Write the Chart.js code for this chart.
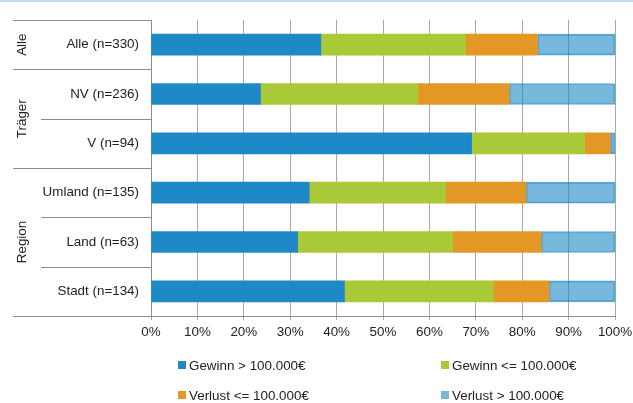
<!DOCTYPE html>
<html>
<head>
<meta charset="utf-8">
<script src="https://cdn.jsdelivr.net/npm/chart.js@4"></script>
<style>
  html, body { margin: 0; padding: 0; background: #fff; }
  #wrap { width: 633px; height: 403px; position: relative; }
</style>
</head>
<body>
<div id="wrap"><canvas id="myChart" width="633" height="403"></canvas></div>
<script>
"use strict";

const categories = ["Alle (n=330)", "NV (n=236)", "V (n=94)", "Umland (n=135)", "Land (n=63)", "Stadt (n=134)"];
const gewinnGross = [36.6, 23.6, 69.1, 34.1, 31.6, 41.7];
const gewinnKlein = [31.2, 33.9, 24.4, 29.4, 33.4, 32.1];
const verlustKlein = [15.5, 19.7, 5.5, 17.3, 19.1, 12.0];
const verlustGross = [16.7, 22.8, 1.0, 19.2, 15.9, 14.2];
const seriesLabels = ["Gewinn > 100.000€", "Gewinn <= 100.000€", "Verlust <= 100.000€", "Verlust > 100.000€"];
const groups = [
    { name: "Alle", from: 0, to: 0 },
    { name: "Träger", from: 1, to: 2 },
    { name: "Region", from: 3, to: 5 }
];

const font = "Liberation Sans, Arial, sans-serif";
const fontSize = 13.4;
const ctx = document.getElementById("myChart");

// group labels, separator lines, legend
const extras = {
    id: "extras",
    afterDraw(chart) {
        const c = chart.ctx;
        const y = chart.scales.y;
        const half = (y.getPixelForValue(1) - y.getPixelForValue(0)) / 2;
        const axisX = chart.chartArea.left;

        c.save();
        c.fillStyle = "#bcdcf0";
        c.fillRect(0, 0, chart.width, 2);

        c.strokeStyle = "#8c8c8c";
        c.lineWidth = 1;
        for (let i = 0; i <= categories.length; i++) {
            const py = Math.round(y.getPixelForValue(i) - half) + 0.5;
            const isGroupEdge = groups.some(g => g.from == i || g.to + 1 == i);
            c.beginPath();
            c.moveTo(isGroupEdge ? 13 : 41, py);
            c.lineTo(axisX, py);
            c.stroke();
        }

        c.fillStyle = "#222";
        c.font = fontSize + "px " + font;
        c.textAlign = "center";
        c.textBaseline = "middle";
        for (const g of groups) {
            const mid = (y.getPixelForValue(g.from) + y.getPixelForValue(g.to)) / 2;
            c.save();
            c.translate(22, mid);
            c.rotate(-Math.PI / 2);
            c.fillText(g.name, 0, 0);
            c.restore();
        }

        // legend, 2 columns
        const cols = [178, 441];
        const rows = [365, 395];
        c.textAlign = "left";
        chart.data.datasets.forEach((ds, i) => {
            const lx = cols[i % 2];
            const ly = rows[Math.floor(i / 2)];
            c.fillStyle = ds.legendColor;
            c.fillRect(lx, ly - 4, 8, 8);
            c.fillStyle = "#222";
            c.fillText(ds.label, lx + 11, ly + 1);
        });
        c.restore();
    }
};

const myChart = new Chart(ctx, {
    type: "bar",
    data: {
        labels: categories,
        datasets: [
            { label: seriesLabels[0], data: gewinnGross, backgroundColor: "#1f88c7", legendColor: "#1f88c7", borderWidth: 0 },
            { label: seriesLabels[1], data: gewinnKlein, backgroundColor: "#a9c939", legendColor: "#a9c939", borderWidth: 0 },
            { label: seriesLabels[2], data: verlustKlein, backgroundColor: "#e39826", legendColor: "#e39826", borderWidth: 0 },
            { label: seriesLabels[3], data: verlustGross, backgroundColor: "rgba(31,136,199,0.6)", legendColor: "#78b6dc",
              borderColor: "rgba(31,136,199,0.7)", borderWidth: 1, borderSkipped: false }
        ]
    },
    options: {
        indexAxis: "y",
        responsive: false,
        animation: false,
        barThickness: 21,
        layout: { padding: { top: 19, right: 18, left: 0, bottom: 0 } },
        plugins: {
            legend: { display: false },
            tooltip: { enabled: false }
        },
        scales: {
            x: {
                stacked: true,
                min: 0,
                max: 100,
                afterFit: s => { s.height = 87; s.paddingRight = 0; s.paddingLeft = 0; },
                border: { color: "#8c8c8c" },
                grid: { color: "#a6a6a6", tickLength: 4 },
                ticks: {
                    stepSize: 10,
                    padding: 4,
                    color: "#222",
                    font: { family: font, size: fontSize },
                    callback: v => v + "%"
                }
            },
            y: {
                stacked: true,
                afterFit: s => { s.width = 151; },
                border: { color: "#8c8c8c" },
                grid: { display: false, drawTicks: false },
                ticks: {
                    padding: 12,
                    color: "#222",
                    font: { family: font, size: fontSize }
                }
            }
        }
    },
    plugins: [extras]
});
</script>
</body>
</html>
